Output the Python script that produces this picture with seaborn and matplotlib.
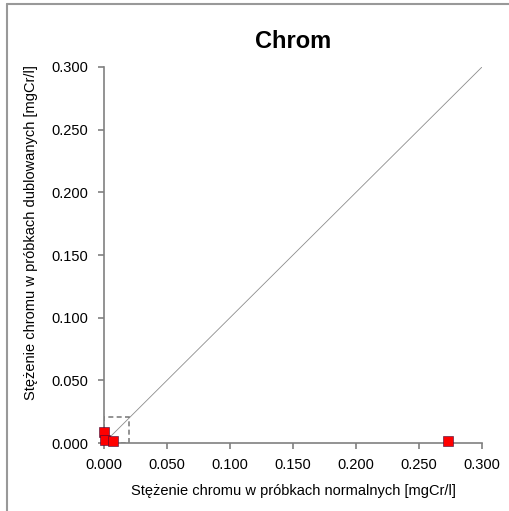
import matplotlib
matplotlib.use("Agg")
import matplotlib.pyplot as plt
import seaborn as sns
import pandas as pd
from matplotlib.patches import Rectangle

normal = [0.000, 0.001, 0.007, 0.273]
duplicate = [0.0087, 0.0024, 0.0016, 0.0016]
ticks = [0.0, 0.05, 0.10, 0.15, 0.20, 0.25, 0.30]
tick_labels = ["0.000", "0.050", "0.100", "0.150", "0.200", "0.250", "0.300"]

sns.set_style("white")
plt.rcParams['font.family'] = ['Liberation Sans', 'DejaVu Sans']
plt.rcParams['text.color'] = 'black'
plt.rcParams['axes.labelcolor'] = 'black'
plt.rcParams['xtick.color'] = 'black'
plt.rcParams['ytick.color'] = 'black'

df = pd.DataFrame({"x": normal, "y": duplicate})

fig = plt.figure(figsize=(5.10, 5.11), dpi=100)
ax = fig.add_axes([104/510, 1-443/511, 378/510, 376/511])

ax.plot([0, 0.3], [0, 0.3], color="#8c8c8c", lw=0.6, zorder=1)
ax.add_patch(Rectangle((0, 0), 0.02, 0.021, fill=False, ls=(0, (3, 2)),
                       ec="#808080", lw=1.2, zorder=2))
sns.scatterplot(data=df, x="x", y="y", ax=ax, marker="s", s=44,
                color="#ff0000", edgecolor="#3a0a3a", linewidth=0.4, zorder=3,
                clip_on=False)

ax.set_xlim(0, 0.3)
ax.set_ylim(0, 0.3)
ax.set_xticks(ticks)
ax.set_xticklabels(tick_labels)
ax.set_yticks(ticks)
ax.set_yticklabels(tick_labels)
for s in ["top", "right"]:
    ax.spines[s].set_visible(False)
for s in ["left", "bottom"]:
    ax.spines[s].set_color("#808080")
    ax.spines[s].set_linewidth(1.2)
ax.tick_params(axis="both", direction="out", length=4.5, width=1.2,
               color="#808080", labelcolor="black", labelsize=10.5,
               bottom=True, left=True)
ax.tick_params(axis="x", pad=6)
ax.tick_params(axis="y", pad=7)
ax.set_xlabel("Stężenie chromu w próbkach normalnych [mgCr/l]", fontsize=10.5, labelpad=9)
ax.set_ylabel("Stężenie chromu w próbkach dublowanych [mgCr/l]", fontsize=10.5)
ax.yaxis.set_label_coords(-0.175, 0.56)
ax.set_title("Chrom", fontsize=17, fontweight="bold", pad=14, color="black")

# figure frame (top and left visible)
fig.add_artist(plt.Line2D([7/510, 1], [1-4/511, 1-4/511], color="#999999", lw=1.5,
                          transform=fig.transFigure))
fig.add_artist(plt.Line2D([7/510, 7/510], [0, 1-4/511], color="#999999", lw=1.5,
                          transform=fig.transFigure))

fig.savefig("out.png", dpi=100)
